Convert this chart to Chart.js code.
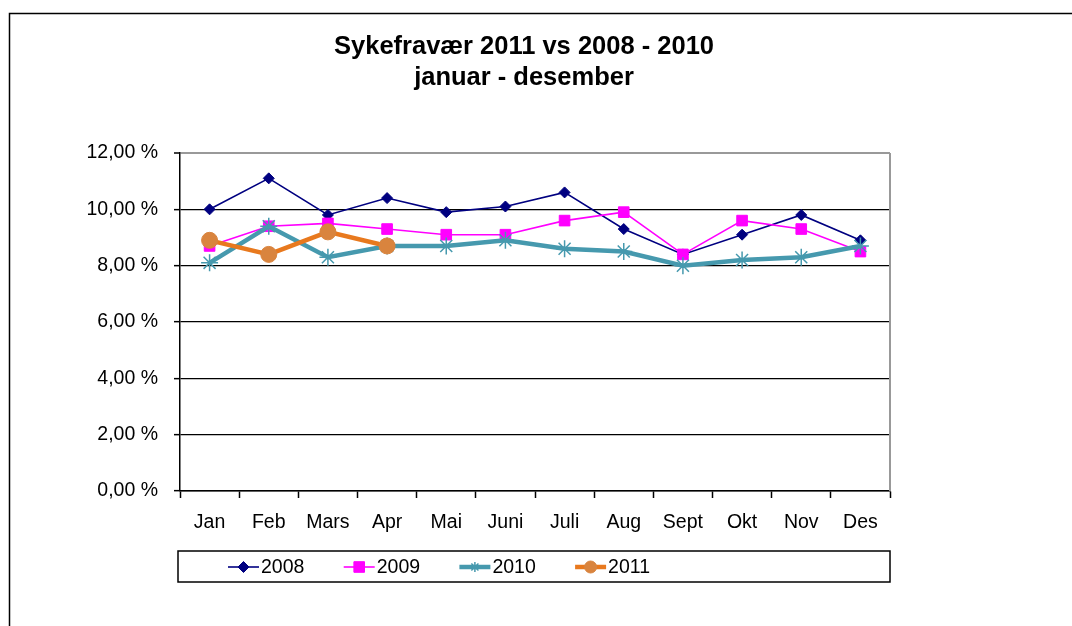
<!DOCTYPE html>
<html>
<head>
<meta charset="utf-8">
<title>Sykefravær 2011 vs 2008 - 2010</title>
<script src="https://cdn.jsdelivr.net/npm/chart.js@4/dist/chart.umd.min.js"></script>
<style>
  html, body { margin: 0; padding: 0; background: #fff; }
  canvas { display: block; }
</style>
</head>
<body>
<canvas id="chart" width="1072" height="626"></canvas>
<script>
// Data (percent)
const months = ['Jan', 'Feb', 'Mars', 'Apr', 'Mai', 'Juni', 'Juli', 'Aug', 'Sept', 'Okt', 'Nov', 'Des'];
const years = ['2008', '2009', '2010', '2011'];
const values2008 = [10.0, 11.1, 9.8, 10.4, 9.9, 10.1, 10.6, 9.3, 8.4, 9.1, 9.8, 8.9];
const values2009 = [8.7, 9.4, 9.5, 9.3, 9.1, 9.1, 9.6, 9.9, 8.4, 9.6, 9.3, 8.5];
const values2010 = [8.1, 9.4, 8.3, 8.7, 8.7, 8.9, 8.6, 8.5, 8.0, 8.2, 8.3, 8.7];
const values2011 = [8.9, 8.4, 9.2, 8.7, null, null, null, null, null, null, null, null];
const titleLines = ['Sykefravær 2011 vs 2008 - 2010', 'januar - desember'];

const FONT = 'Arial, "Liberation Sans", sans-serif';
Chart.defaults.font.family = FONT;
Chart.defaults.color = '#000';

// Chart area edges in the picture
const AREA = { left: 180, top: 153, right: 890, bottom: 491 };

function fmtPct(v) {
  return v.toFixed(2).replace('.', ',') + ' %';
}

// Frame, title, plot border and the boxed legend
const decorations = {
  id: 'decorations',
  beforeDraw(chart) {
    const ctx = chart.ctx;
    ctx.save();
    ctx.fillStyle = '#fff';
    ctx.fillRect(0, 0, chart.width, chart.height);
    ctx.strokeStyle = '#000';
    ctx.lineWidth = 1.5;
    ctx.beginPath();
    ctx.moveTo(9.5, chart.height + 5);
    ctx.lineTo(9.5, 13.5);
    ctx.lineTo(chart.width + 5, 13.5);
    ctx.stroke();
    ctx.restore();
  },
  afterDraw(chart) {
    const ctx = chart.ctx;
    const a = chart.chartArea;
    ctx.save();
    // right border of plot
    ctx.strokeStyle = '#999';
    ctx.lineWidth = 2;
    ctx.beginPath();
    ctx.moveTo(a.right, a.top);
    ctx.lineTo(a.right, a.bottom);
    ctx.stroke();

    // title
    ctx.fillStyle = '#000';
    ctx.font = 'bold 25.5px ' + FONT;
    ctx.textAlign = 'center';
    ctx.textBaseline = 'middle';
    ctx.fillText(titleLines[0], 524, 47);
    ctx.fillText(titleLines[1], 524, 78);

    // legend box
    ctx.strokeStyle = '#000';
    ctx.lineWidth = 1.5;
    ctx.strokeRect(178, 551, 712, 31);
    const ly = 567;
    ctx.font = '19.5px ' + FONT;
    ctx.textAlign = 'left';
    chart.data.datasets.forEach((ds, i) => {
      const x0 = 228 + i * 115.7;
      const x1 = x0 + 31;
      ctx.strokeStyle = ds.borderColor;
      ctx.lineWidth = ds.borderWidth;
      ctx.beginPath();
      ctx.moveTo(x0, ly);
      ctx.lineTo(x1, ly);
      ctx.stroke();
      ctx.fillStyle = ds.pointBackgroundColor;
      ctx.strokeStyle = ds.pointBorderColor;
      ctx.lineWidth = ds.pointBorderWidth;
      Chart.helpers.drawPoint(ctx, {
        pointStyle: ds.pointStyle,
        radius: ds.legendRadius,
        rotation: 0,
        borderWidth: ds.pointBorderWidth
      }, (x0 + x1) / 2, ly);
      ctx.fillStyle = '#000';
      ctx.fillText(ds.label, x1 + 2, ly + 1);
    });
    ctx.restore();
  }
};

new Chart(document.getElementById('chart'), {
  type: 'line',
  data: {
    labels: months,
    datasets: [
      {
        label: years[0], data: values2008, order: 4,
        borderColor: '#000080', borderWidth: 1.6,
        pointStyle: 'rectRot', pointRadius: 5.5, legendRadius: 5.5,
        pointBackgroundColor: '#000080', pointBorderColor: '#000080', pointBorderWidth: 1
      },
      {
        label: years[1], data: values2009, order: 3,
        borderColor: '#FF00FF', borderWidth: 1.6,
        pointStyle: 'rect', pointRadius: 7.5, legendRadius: 7.5,
        pointBackgroundColor: '#FF00FF', pointBorderColor: '#FF00FF', pointBorderWidth: 1
      },
      {
        label: years[2], data: values2010, order: 2,
        borderColor: '#4699AE', borderWidth: 4.5,
        pointStyle: 'star', pointRadius: 8.5, legendRadius: 5,
        pointBackgroundColor: '#4699AE', pointBorderColor: '#4699AE', pointBorderWidth: 1.5
      },
      {
        label: years[3], data: values2011, order: 1,
        borderColor: '#E8791E', borderWidth: 4.5,
        pointStyle: 'circle', pointRadius: 8, legendRadius: 6,
        pointBackgroundColor: '#D9843E', pointBorderColor: '#D9843E', pointBorderWidth: 1
      }
    ]
  },
  options: {
    responsive: false,
    animation: false,
    spanGaps: false,
    layout: { padding: { left: 0, top: AREA.top, right: 1072 - AREA.right, bottom: 0 } },
    plugins: {
      legend: { display: false },
      title: { display: false },
      tooltip: { enabled: false }
    },
    elements: { line: { tension: 0 } },
    scales: {
      x: {
        offset: true,
        afterFit(scale) { scale.height = 626 - AREA.bottom; },
        grid: {
          offset: true,
          drawOnChartArea: false,
          drawTicks: true,
          tickLength: 7,
          tickColor: '#000',
          tickWidth: 1.5
        },
        border: { color: '#000', width: 1.5 },
        ticks: { font: { size: 19.5 }, color: '#000', padding: 13, maxRotation: 0, autoSkip: false }
      },
      y: {
        min: 0,
        max: 12,
        afterFit(scale) { scale.width = AREA.left; },
        grid: {
          color: (c) => (c.tick && c.tick.value === 12 ? '#999' : '#000'),
          lineWidth: (c) => (c.tick && c.tick.value === 12 ? 2 : 1.3),
          tickLength: 6,
          tickColor: '#000',
          tickWidth: 1.5
        },
        border: { color: '#000', width: 1.5 },
        ticks: {
          stepSize: 2,
          font: { size: 19.5 },
          color: '#000',
          padding: 16,
          callback: (v) => fmtPct(v)
        }
      }
    }
  },
  plugins: [decorations]
});
</script>
</body>
</html>
